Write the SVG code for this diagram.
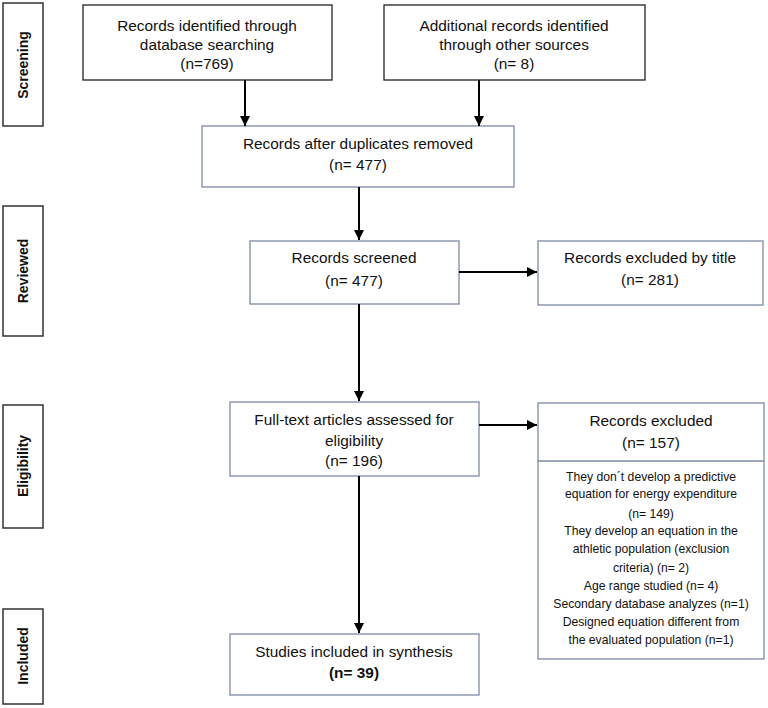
<svg xmlns="http://www.w3.org/2000/svg" width="768" height="708" viewBox="0 0 768 708">
<defs>
<marker id="ah" viewBox="0 0 10 10" refX="10" refY="5" markerWidth="5" markerHeight="5" markerUnits="strokeWidth" orient="auto"><path d="M0,0 L10,5 L0,10 z" fill="#000"/></marker>
<style>
.side{fill:#fff;stroke:#333;stroke-width:1.5}
.bk{fill:#fff;stroke:#222;stroke-width:1.3}
.bl{fill:#fff;stroke:#7b8aa6;stroke-width:1.3}
text{font-family:"Liberation Sans","Open Sans",Arial,sans-serif;font-size:15.4px;fill:#111;text-anchor:middle}
.sl{font-weight:bold;font-size:14px}
.sm{font-size:12.2px}
.b{font-weight:bold}
.c{stroke:#000;stroke-width:2;fill:none;marker-end:url(#ah)}
</style>
</defs>
<rect width="768" height="708" fill="#fff"/>
<g id="side-screening"><rect class="side" x="3" y="3" width="40" height="123"/><text class="sl" transform="translate(28,65) rotate(-90)">Screening</text></g>
<g id="side-reviewed"><rect class="side" x="3" y="206" width="40" height="130"/><text class="sl" transform="translate(28,271) rotate(-90)">Reviewed</text></g>
<g id="side-eligibility"><rect class="side" x="3" y="405" width="40" height="123"/><text class="sl" transform="translate(28,466) rotate(-90)">Eligibility</text></g>
<g id="side-included"><rect class="side" x="3" y="609" width="40" height="95"/><text class="sl" transform="translate(28,656) rotate(-90)">Included</text></g>

<g id="n-db"><rect class="bk" x="83" y="5" width="249" height="75"/><text x="207" y="31">Records identified through</text><text x="207" y="50">database searching</text><text x="207" y="69">(n=769)</text></g>
<g id="n-other"><rect class="bk" x="384" y="5" width="261" height="75"/><text x="514" y="31">Additional records identified</text><text x="514" y="50">through other sources</text><text x="514" y="69">(n= 8)</text></g>
<g id="n-dup"><rect class="bl" x="202" y="126" width="312" height="61"/><text x="358" y="149">Records after duplicates removed</text><text x="358" y="170">(n= 477)</text></g>
<g id="n-screened"><rect class="bl" x="250" y="241" width="209" height="63"/><text x="354" y="263">Records screened</text><text x="354" y="286">(n= 477)</text></g>
<g id="n-title"><rect class="bl" x="538" y="241" width="225" height="64"/><text x="650" y="263">Records excluded by title</text><text x="650" y="285">(n= 281)</text></g>
<g id="n-full"><rect class="bl" x="230" y="402" width="249" height="74"/><text x="354" y="425">Full-text articles assessed for</text><text x="354" y="446">eligibility</text><text x="354" y="466">(n= 196)</text></g>
<g id="n-excl"><rect class="bl" x="538" y="403" width="226" height="256"/><line x1="538" y1="461" x2="764" y2="461" stroke="#7b8aa6" stroke-width="1.3"/><text x="651" y="426">Records excluded</text><text x="651" y="448">(n= 157)</text>
<text class="sm" x="651" y="481">They don´t develop a predictive</text>
<text class="sm" x="651" y="498">equation for energy expenditure</text>
<text class="sm" x="651" y="518">(n= 149)</text>
<text class="sm" x="651" y="535">They develop an equation in the</text>
<text class="sm" x="651" y="553">athletic population (exclusion</text>
<text class="sm" x="651" y="572">criteria) (n= 2)</text>
<text class="sm" x="651" y="590">Age range studied (n= 4)</text>
<text class="sm" x="651" y="608">Secondary database analyzes (n=1)</text>
<text class="sm" x="651" y="626">Designed equation different from</text>
<text class="sm" x="651" y="644">the evaluated population (n=1)</text></g>
<g id="n-incl"><rect class="bl" x="230" y="634" width="249" height="61"/><text x="354" y="657">Studies included in synthesis</text><text class="b" x="354" y="678">(n= 39)</text></g>

<g id="connectors">
<line class="c" x1="245" y1="80" x2="245" y2="126"/>
<line class="c" x1="479" y1="80" x2="479" y2="126"/>
<line class="c" x1="359" y1="187" x2="359" y2="240"/>
<line class="c" x1="359" y1="304" x2="359" y2="401"/>
<line class="c" x1="459" y1="272" x2="537" y2="272"/>
<line class="c" x1="479" y1="425" x2="537" y2="425"/>
<line class="c" x1="359" y1="476" x2="359" y2="633"/>
</g>
</svg>
